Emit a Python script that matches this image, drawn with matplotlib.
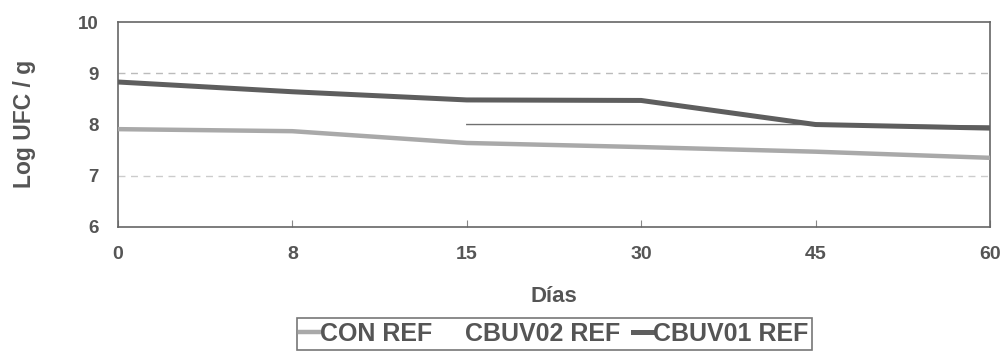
import matplotlib.pyplot as plt
import numpy as np

# days (categorical, equally spaced on the axis)
dias = ["0", "8", "15", "30", "45", "60"]
con_ref = [7.91, 7.87, 7.64, 7.56, 7.47, 7.35]
cbuv02_ref = [np.nan, np.nan, 8.0, 8.0, 8.0, 7.97]
cbuv01_ref = [8.83, 8.64, 8.48, 8.47, 8.0, 7.93]

plt.rcParams['font.family'] = ['Liberation Sans', 'DejaVu Sans']
txt = "#555555"

fig = plt.figure(figsize=(10.06, 3.56), dpi=100)
ax = fig.add_axes([0.1173, 0.3624, 0.8667, 0.5756])

x = np.arange(len(dias))
ax.axhline(9, color="#bbbbbb", lw=1, ls=(0, (5, 4)), zorder=1)
ax.axhline(7, color="#cccccc", lw=1, ls=(0, (5, 4)), zorder=1)

ax.plot(x, con_ref, color="#a9a9a9", lw=3.2, label="CON REF", zorder=3)
ax.plot(x, cbuv02_ref, color="#707070", lw=1.0, label="CBUV02 REF", zorder=2)
ax.plot(x, cbuv01_ref, color="#5e5e5e", lw=3.6, label="CBUV01 REF", zorder=4)

ax.set_xlim(0, len(dias) - 1)
ax.set_ylim(6, 10)
ax.set_xticks(x)
ax.set_xticklabels(dias)
ax.set_yticks([6, 7, 8, 9, 10])
ax.tick_params(axis="x", direction="in", length=5, color="#888888", pad=14,
               labelsize=14, labelcolor=txt)
ax.tick_params(axis="y", length=0, pad=14, labelsize=13.5, labelcolor=txt)
for lab in ax.get_xticklabels() + ax.get_yticklabels():
    lab.set_fontweight("bold")

for s in ax.spines.values():
    s.set_color("#666666")
    s.set_linewidth(1.2)

ax.set_xlabel("Días", fontsize=16, fontweight="bold", color=txt)
ax.xaxis.set_label_coords(0.5, -0.29)
ax.set_ylabel("Log UFC / g", fontsize=16.5, fontweight="bold", color=txt)
ax.yaxis.set_label_coords(-0.094, 0.503)

leg = fig.legend(loc="center", bbox_to_anchor=(0.551, 0.062), ncol=3,
                 frameon=True, fancybox=False, handlelength=0.75,
                 handletextpad=0.05, columnspacing=0.5, borderpad=0.15,
                 borderaxespad=0, prop={"size": 18, "weight": "bold"})
leg.get_frame().set_edgecolor("#555555")
leg.get_frame().set_linewidth(1.2)
leg.get_lines()[1].set_alpha(0)
for t in leg.get_texts():
    t.set_color(txt)

fig.savefig("out.png", dpi=100)
